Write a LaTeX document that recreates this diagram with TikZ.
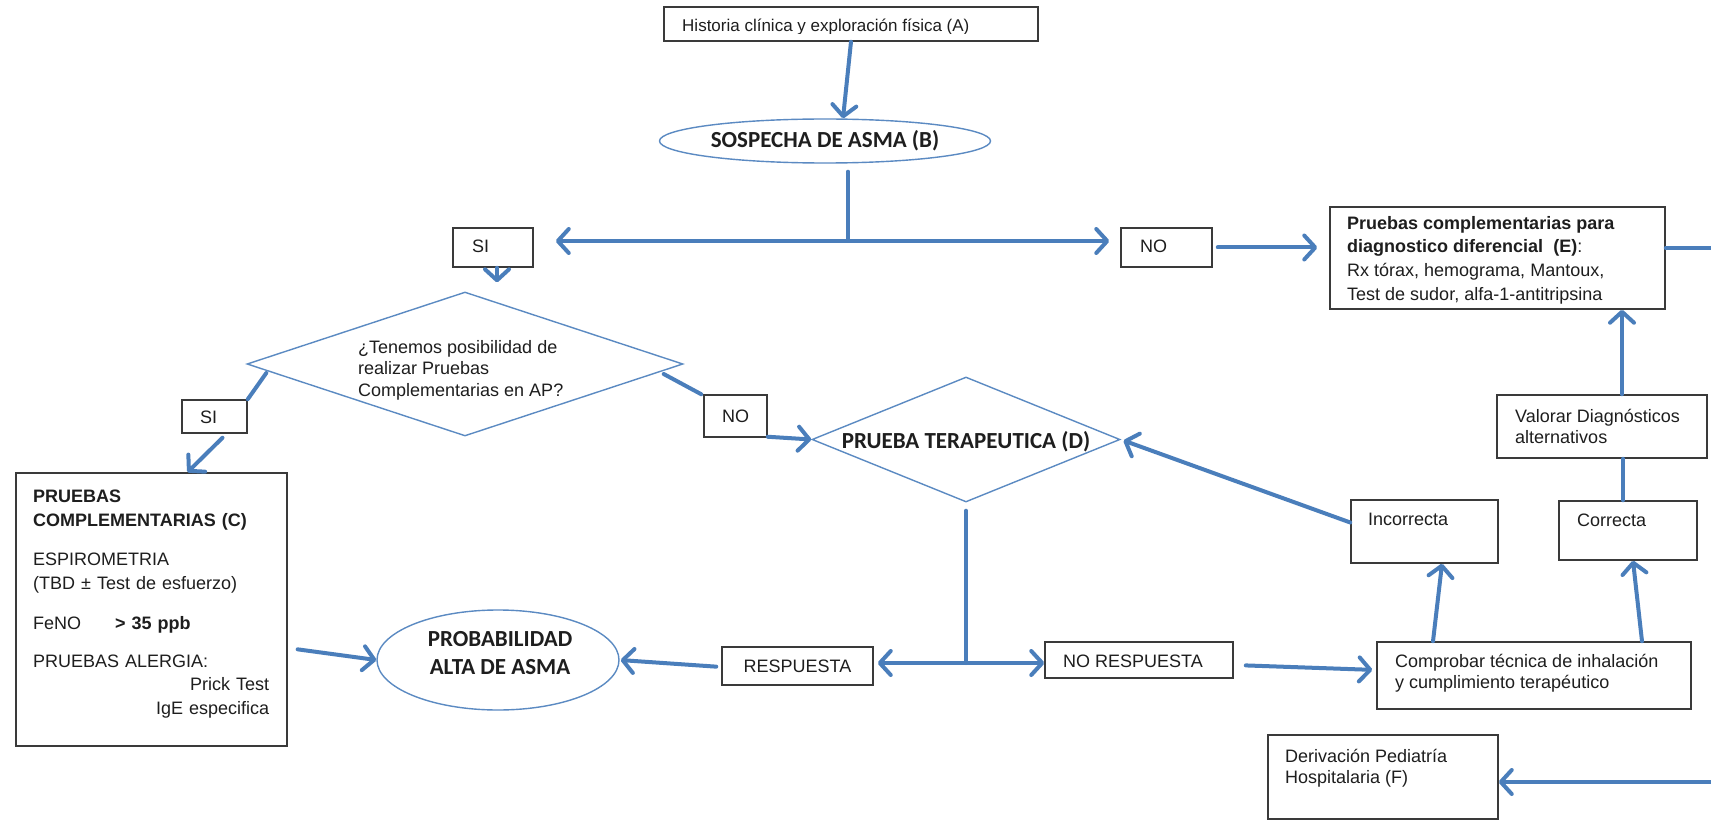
\documentclass[tikz,border=0pt]{standalone}
\usepackage{fontspec}
\setmainfont{Liberation Sans}
\newfontfamily\calibri{Carlito}
\usetikzlibrary{arrows.meta,shapes.geometric}

\definecolor{flow}{HTML}{4A7EBB}
\definecolor{framec}{HTML}{3A3A3A}
\definecolor{shapec}{HTML}{5B8AC2}
\definecolor{ink}{HTML}{1E1E1E}

\tikzset{
  px/.style={x=1pt,y=-1pt},
  frame/.style={rectangle, draw=framec, line width=1.5pt, fill=white, inner sep=0pt},
  outline/.style={draw=shapec, line width=1.4pt, fill=white, inner sep=0pt},
  txt/.style={inner sep=0pt, text=ink, font=\fontsize{18}{21.5}\selectfont, align=left},
  headtxt/.style={inner sep=0pt, text=ink, font=\calibri\bfseries\fontsize{23}{28}\selectfont, align=center},
  conn/.style={draw=flow, line width=4pt, line cap=round, line join=round},
  arr/.style={conn, -{Straight Barb[length=11pt,width=24pt,round]}},
  darr/.style={conn, {Straight Barb[length=11pt,width=24pt,round]}-{Straight Barb[length=11pt,width=24pt,round]}},
}

\begin{document}
\begin{tikzpicture}[px]
\clip (0,0) rectangle (1711,821);
\fill[white] (0,0) rectangle (1711,821);

% ---------- top: history and suspicion ----------
\node[frame, minimum width=374pt, minimum height=34pt] (a) at (851,24) {};
\begin{scope}
  \clip (666,9) rectangle (1036,33.5);
  \node[txt, font=\fontsize{17}{20}\selectfont, anchor=base west] (at) at (682,32)
    {Historia clínica y exploración física (A)};
\end{scope}

\node[outline, ellipse, headtxt, minimum width=331pt, minimum height=44pt] (b) at (825,141)
  {SOSPECHA DE ASMA (B)};

\coordinate (bs) at ([xshift=23pt,yshift=-8pt]b.south);
\coordinate (split1) at (848,241);

% ---------- SI / NO branches ----------
\node[frame, minimum width=80pt, minimum height=39pt] (si1) at (493,247.5) {};
\node[txt, anchor=base west] (si1t) at (472,253) {SI};

\node[frame, minimum width=91pt, minimum height=39pt] (no1) at (1166.5,247.5) {};
\node[txt, anchor=base west] (no1t) at (1140,253) {NO};

\node[frame, minimum width=335pt, minimum height=102pt] (e) at (1497.5,258) {};
\node[txt, anchor=north west, font=\fontsize{18}{23.7}\selectfont] (et) at (1347,216)
  {\textbf{Pruebas complementarias para}\\\textbf{diagnostico diferencial \ (E)}:\\Rx tórax, hemograma, Mantoux,\\Test de sudor, alfa-1-antitripsina};

% ---------- decision: tests in primary care ----------
\node[outline, diamond, minimum width=436pt, minimum height=144pt] (d1) at (465,364) {};
\node[txt, anchor=north west] (d1t) at (358,340)
  {¿Tenemos posibilidad de\\realizar Pruebas\\Complementarias en AP?};

\node[frame, minimum width=65pt, minimum height=33pt] (si2) at (214.5,416.5) {};
\node[txt, anchor=base west] (si2t) at (200,423) {SI};

\node[frame, minimum width=63pt, minimum height=42pt] (no2) at (735.5,416) {};
\node[txt, anchor=base west] (no2t) at (722,422) {NO};

% ---------- therapeutic trial ----------
\node[outline, diamond, minimum width=308pt, minimum height=125pt] (d) at (966,439.5) {};
\node[headtxt] (dt) at (966,442) {PRUEBA TERAPEUTICA (D)};

% ---------- complementary tests ----------
\node[frame, minimum width=271pt, minimum height=273pt] (c) at (151.5,609.5) {};
\node[txt, anchor=north west, text width=236pt, font=\fontsize{18}{23.5}\selectfont] (ct) at (33,490)
  {\textbf{PRUEBAS}\\
   \textbf{COMPLEMENTARIAS (C)}\\[16pt]
   ESPIROMETRIA\\
   (TBD ± Test de esfuerzo)\\[17pt]
   \makebox[82pt][l]{FeNO}\textbf{> 35 ppb}\\[14pt]
   PRUEBAS ALERGIA:\\
   \mbox{}\hfill Prick Test\\
   \mbox{}\hfill IgE especifica};

% ---------- outcome ----------
\node[outline, ellipse, minimum width=242pt, minimum height=100pt] (p) at (498,660) {};
\node[headtxt] (pt) at (500,653.5) {PROBABILIDAD\\ALTA DE ASMA};

\node[frame, txt, align=center, minimum width=151pt, minimum height=38pt] (r) at (797.5,666) {RESPUESTA};

\node[frame, minimum width=188pt, minimum height=36pt] (nr) at (1139,660) {};
\node[txt, anchor=base west] (nrt) at (1063,667) {NO RESPUESTA};

\node[frame, minimum width=314pt, minimum height=67pt] (comp) at (1534,675.5) {};
\node[txt, anchor=north west, font=\fontsize{18}{21}\selectfont] (compt) at (1395,654)
  {Comprobar técnica de inhalación\\y cumplimiento terapéutico};

\node[frame, minimum width=147pt, minimum height=63pt] (inc) at (1424.5,531.5) {};
\node[txt, anchor=base west] (inct) at (1368,525) {Incorrecta};

\node[frame, minimum width=138pt, minimum height=59pt] (cor) at (1628,530.5) {};
\node[txt, anchor=base west] (cort) at (1577,526) {Correcta};

\node[frame, minimum width=210pt, minimum height=63pt] (val) at (1602,426.5) {};
\node[txt, anchor=north west, font=\fontsize{18}{21}\selectfont] (valt) at (1515,409)
  {Valorar Diagnósticos\\alternativos};

\node[frame, minimum width=230pt, minimum height=84pt] (der) at (1383,777) {};
\node[txt, anchor=north west, font=\fontsize{18}{21}\selectfont] (dert) at (1285,749)
  {Derivación Pediatría\\Hospitalaria (F)};

\coordinate (ds) at ([yshift=-8pt]d.south);
\coordinate (split2) at (966,663);
\coordinate (rt) at (1716,248);
\coordinate (rb) at (1716,782);

% ---------- connectors ----------
\draw[arr] (a.south) -- ([xshift=18pt]b.north);
\draw[conn] (bs) -- (split1);
\draw[darr, shorten <=22pt, shorten >=11pt] (split1 -| si1.east) -- (split1 -| no1.west);
\draw[arr, shorten <=5pt, shorten >=12pt] (no1.east) -- (no1.east -| e.west);
\draw[arr, shorten >=9pt] ([xshift=4pt]si1.south) -- ([xshift=4pt]si1.south |- d1.north);
\draw[conn] ([xshift=20pt,yshift=-9pt]d1.west) -- (si2.north east);
\draw[arr] ([xshift=8pt,yshift=-4pt]si2.south) -- ([xshift=36pt]c.north);
\draw[conn] ([xshift=-20pt,yshift=-10pt]d1.east) -- ([xshift=-2pt]no2.north west);
\draw[arr] ([yshift=1pt]no2.south east) -- (d.west);
\draw[conn] (ds) -- (split2);
\draw[darr, shorten <=4pt] (split2 -| r.east) -- (split2 -| nr.west);
\draw[arr, shorten <=5pt, shorten >=1pt] ([yshift=-1pt]r.west) -- (p.east);
\draw[arr, shorten <=10pt] ([yshift=-38.5pt]c.east) -- (p.west);
\draw[arr, shorten <=12pt, shorten >=4pt] ([yshift=-5pt]nr.east) -- ([yshift=5.5pt]comp.west);
\draw[arr] ([xshift=-101pt]comp.north) -- ([xshift=17.5pt]inc.south);
\draw[arr] ([xshift=108pt]comp.north) -- ([xshift=5pt]cor.south);
\draw[conn] ([xshift=-5pt]cor.north) -- ([xshift=-5pt]cor.north |- val.south);
\draw[arr] ([xshift=20pt]val.north) -- ([xshift=20pt]val.north |- e.south);
\draw[arr, shorten >=3pt] ([yshift=9pt]inc.west) -- (d.east);
\draw[arr] ([yshift=10pt]e.east) -- (rt) -- (rb) -- ([yshift=-5pt]der.east);
\end{tikzpicture}
\end{document}
